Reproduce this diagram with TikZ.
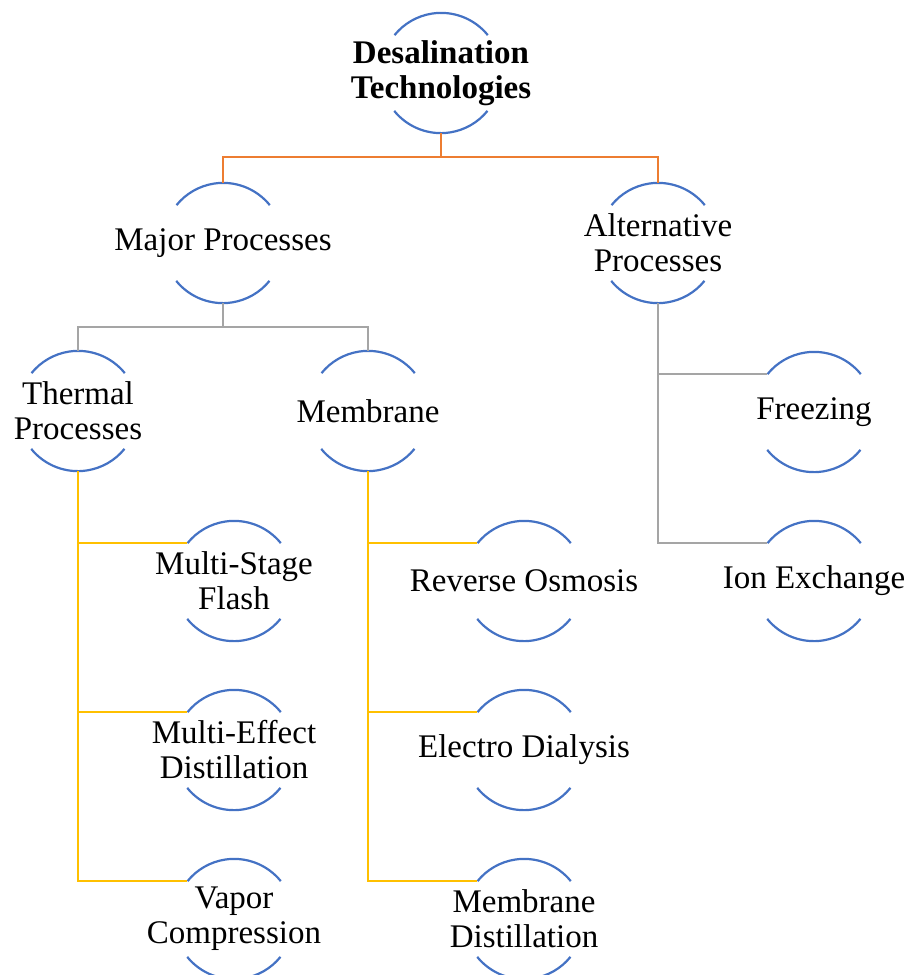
\documentclass[tikz,border=0pt]{standalone}
\usepackage{fontspec}
\setmainfont{Liberation Serif}
\definecolor{arcblue}{HTML}{4472C4}
\definecolor{lineorange}{HTML}{ED7D31}
\definecolor{linegray}{HTML}{A5A5A5}
\definecolor{lineyellow}{HTML}{FFC000}
\tikzset{
  bubble/.style={circle,minimum size=120pt,inner sep=0pt},
  every label/.style={align=center,inner sep=0pt,font=\fontsize{33}{35}\selectfont},
  arcline/.style={draw=arcblue,line width=2.2pt},
  orangeline/.style={draw=lineorange,line width=2.4pt},
  grayline/.style={draw=linegray,line width=2.4pt},
  yellowline/.style={draw=lineyellow,line width=2.4pt}
}
\newcommand{\bubblearcs}[1]{%
  \draw[arcline] (#1.39) arc[start angle=39,end angle=141,radius=\rr];
  \draw[arcline] (#1.219) arc[start angle=219,end angle=321,radius=\rr];}
\begin{document}
\begin{tikzpicture}[x=1pt,y=1pt]
\pgfmathsetmacro{\rr}{60}
\pgfmathsetmacro{\dy}{169}
\useasboundingbox (0,0) rectangle (908,-975);
%
\node[bubble,label={[font=\fontsize{33}{35}\selectfont\bfseries]center:{Desalination\\Technologies}}] (desal) at (441,-73) {};
\node[bubble,label={center:{Major Processes}}] (maj) at (223,-243) {};
\node[bubble,label={center:{Alternative\\Processes}}] (alt) at (658,-243) {};
%
\node[bubble,label={center:{Thermal\\Processes}}] (therm) at (78,-411) {};
\node[bubble,label={center:{Membrane}}] (memb) at (368,-411) {};
\node[bubble,label={center:{Freezing}}] (frz) at (814,-412) {};
\node[bubble,label={center:{Ion Exchange}}] (ion) at (814,-412-\dy) {};
%
\node[bubble,label={center:{Multi-Stage\\Flash}}] (msf) at (234,-581) {};
\node[bubble,label={center:{Multi-Effect\\Distillation}}] (med) at (234,-581-\dy) {};
\node[bubble,label={center:{Vapor\\Compression}}] (vc) at (234,-581-2*\dy) {};
%
\node[bubble,label={center:{Reverse Osmosis}}] (ro) at (524,-581) {};
\node[bubble,label={center:{Electro Dialysis}}] (ed) at (524,-581-\dy) {};
\node[bubble,label={center:{Membrane\\Distillation}}] (md) at (524,-581-2*\dy) {};
%
\foreach \n in {desal,maj,alt,therm,memb,frz,ion,msf,med,vc,ro,ed,md}
  {\bubblearcs{\n}}
%
\foreach \n in {maj,alt}
  \draw[orangeline] (desal.south) -- ++(0,-24) -| (\n.north);
\foreach \n in {therm,memb}
  \draw[grayline] (maj.south) -- ++(0,-24) -| (\n.north);
\foreach \n in {frz,ion}
  \draw[grayline] (alt.south) |- (\n.141);
\foreach \n in {msf,med,vc}
  \draw[yellowline] (therm.south) |- (\n.141);
\foreach \n in {ro,ed,md}
  \draw[yellowline] (memb.south) |- (\n.141);
\end{tikzpicture}
\end{document}
